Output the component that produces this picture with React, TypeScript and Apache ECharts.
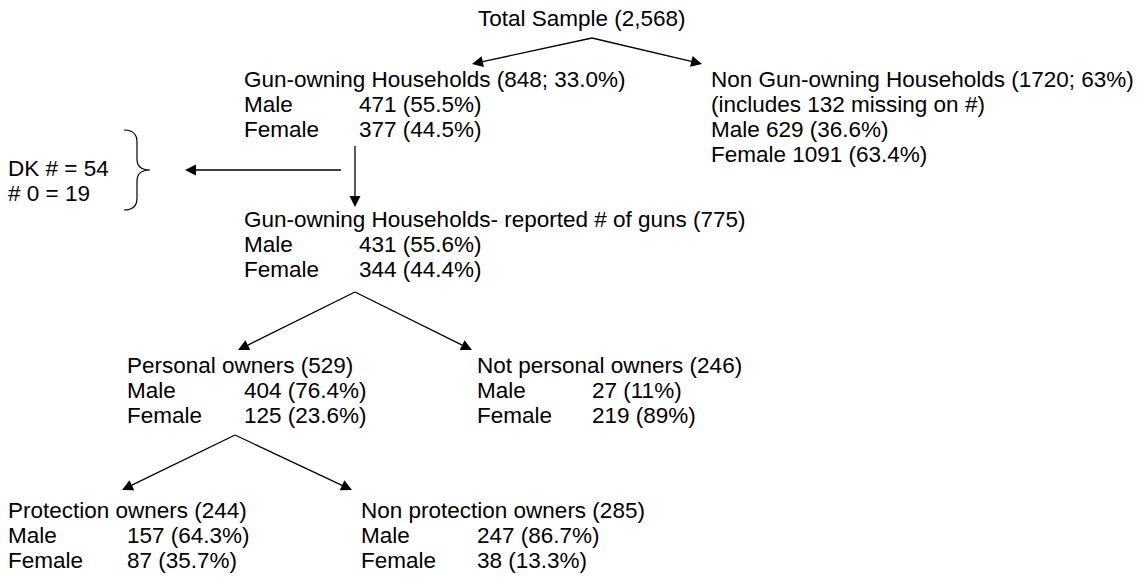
import React, { useEffect, useRef } from "react";
import * as echarts from "echarts";

// ---- Diagram content ----
const genderLabels = ["Male", "Female"];
const totalSample = "Total Sample (2,568)";
const gunHouseholds = ["Gun-owning Households (848; 33.0%)", "471 (55.5%)", "377 (44.5%)"];
const nonGunHouseholds = [
  "Non Gun-owning Households (1720; 63%)",
  "(includes 132 missing on #)",
  "Male 629 (36.6%)",
  "Female 1091 (63.4%)",
];
const dkNotes = ["DK # = 54", "# 0 = 19"];
const reportedGuns = ["Gun-owning Households- reported # of guns (775)", "431 (55.6%)", "344 (44.4%)"];
const personalOwners = ["Personal owners (529)", "404 (76.4%)", "125 (23.6%)"];
const notPersonalOwners = ["Not personal owners (246)", "27 (11%)", "219 (89%)"];
const protectionOwners = ["Protection owners (244)", "157 (64.3%)", "87 (35.7%)"];
const nonProtectionOwners = ["Non protection owners (285)", "247 (86.7%)", "38 (13.3%)"];

const FONT = '22.5px "Liberation Sans", Arial, sans-serif';
const LINE_H = 25;

function txt(text: string, x: number, y: number): any {
  return {
    type: "text",
    style: { text, x, y, font: FONT, fill: "#000", verticalAlign: "middle", align: "left" },
  };
}

function block(lines: string[], x: number, y: number, valueX: number): any[] {
  const out: any[] = [txt(lines[0], x, y)];
  genderLabels.forEach((g, i) => {
    out.push(txt(g, x, y + LINE_H * (i + 1)));
    out.push(txt(lines[i + 1], valueX, y + LINE_H * (i + 1)));
  });
  return out;
}

function arrow(x1: number, y1: number, x2: number, y2: number): any[] {
  const dx = x2 - x1;
  const dy = y2 - y1;
  const len = Math.sqrt(dx * dx + dy * dy);
  const ux = dx / len;
  const uy = dy / len;
  const hl = 11;
  const hw = 5.5;
  const bx = x2 - ux * hl;
  const by = y2 - uy * hl;
  return [
    {
      type: "line",
      shape: { x1, y1, x2: bx, y2: by },
      style: { stroke: "#000", lineWidth: 1.3 },
    },
    {
      type: "polygon",
      shape: {
        points: [
          [x2, y2],
          [bx - uy * hw, by + ux * hw],
          [bx + uy * hw, by - ux * hw],
        ],
      },
      style: { fill: "#000" },
    },
  ];
}

export default function App() {
  const ref = useRef<HTMLDivElement>(null);
  useEffect(() => {
    document.body.style.margin = "0";
    if (!ref.current) return;
    echarts.graphic.registerShape(
      "brace",
      echarts.graphic.extendPath(
        "M124,130 Q137,130 137,142 L137,159 Q137,170 150,170 Q137,170 137,181 L137,198 Q137,210 124,210",
        {}
      )
    );
    const chart = echarts.init(ref.current, null, { renderer: "svg" });
    const elements: any[] = [];
    elements.push(txt(totalSample, 478, 18));
    elements.push(...arrow(592, 38, 472, 64));
    elements.push(...arrow(592, 38, 702, 64));
    elements.push(...block(gunHouseholds, 244, 79, 359));
    nonGunHouseholds.forEach((l, i) => elements.push(txt(l, 711, 79 + i * LINE_H)));
    elements.push(...arrow(355, 146, 355, 207));
    elements.push(...arrow(341, 170, 185, 170));
    elements.push({
      type: "brace",
      x: 0,
      y: 0,
      scaleX: 1,
      scaleY: 1,
      style: { stroke: "#000", fill: "none", lineWidth: 1.2 },
    });
    dkNotes.forEach((l, i) => elements.push(txt(l, 8, 168 + i * LINE_H)));
    elements.push(...block(reportedGuns, 244, 219, 359));
    elements.push(...arrow(355, 292, 238, 350));
    elements.push(...arrow(355, 292, 472, 350));
    elements.push(...block(personalOwners, 127, 365, 244));
    elements.push(...block(notPersonalOwners, 477, 365, 592));
    elements.push(...arrow(235, 435, 122, 490));
    elements.push(...arrow(235, 435, 352, 490));
    elements.push(...block(protectionOwners, 8, 510, 127));
    elements.push(...block(nonProtectionOwners, 361, 510, 477));

    chart.setOption({
      animation: false,
      backgroundColor: "#fff",
      graphic: { elements },
    });
    return () => chart.dispose();
  }, []);
  return <div ref={ref} style={{ width: 1146, height: 580 }} />;
}
